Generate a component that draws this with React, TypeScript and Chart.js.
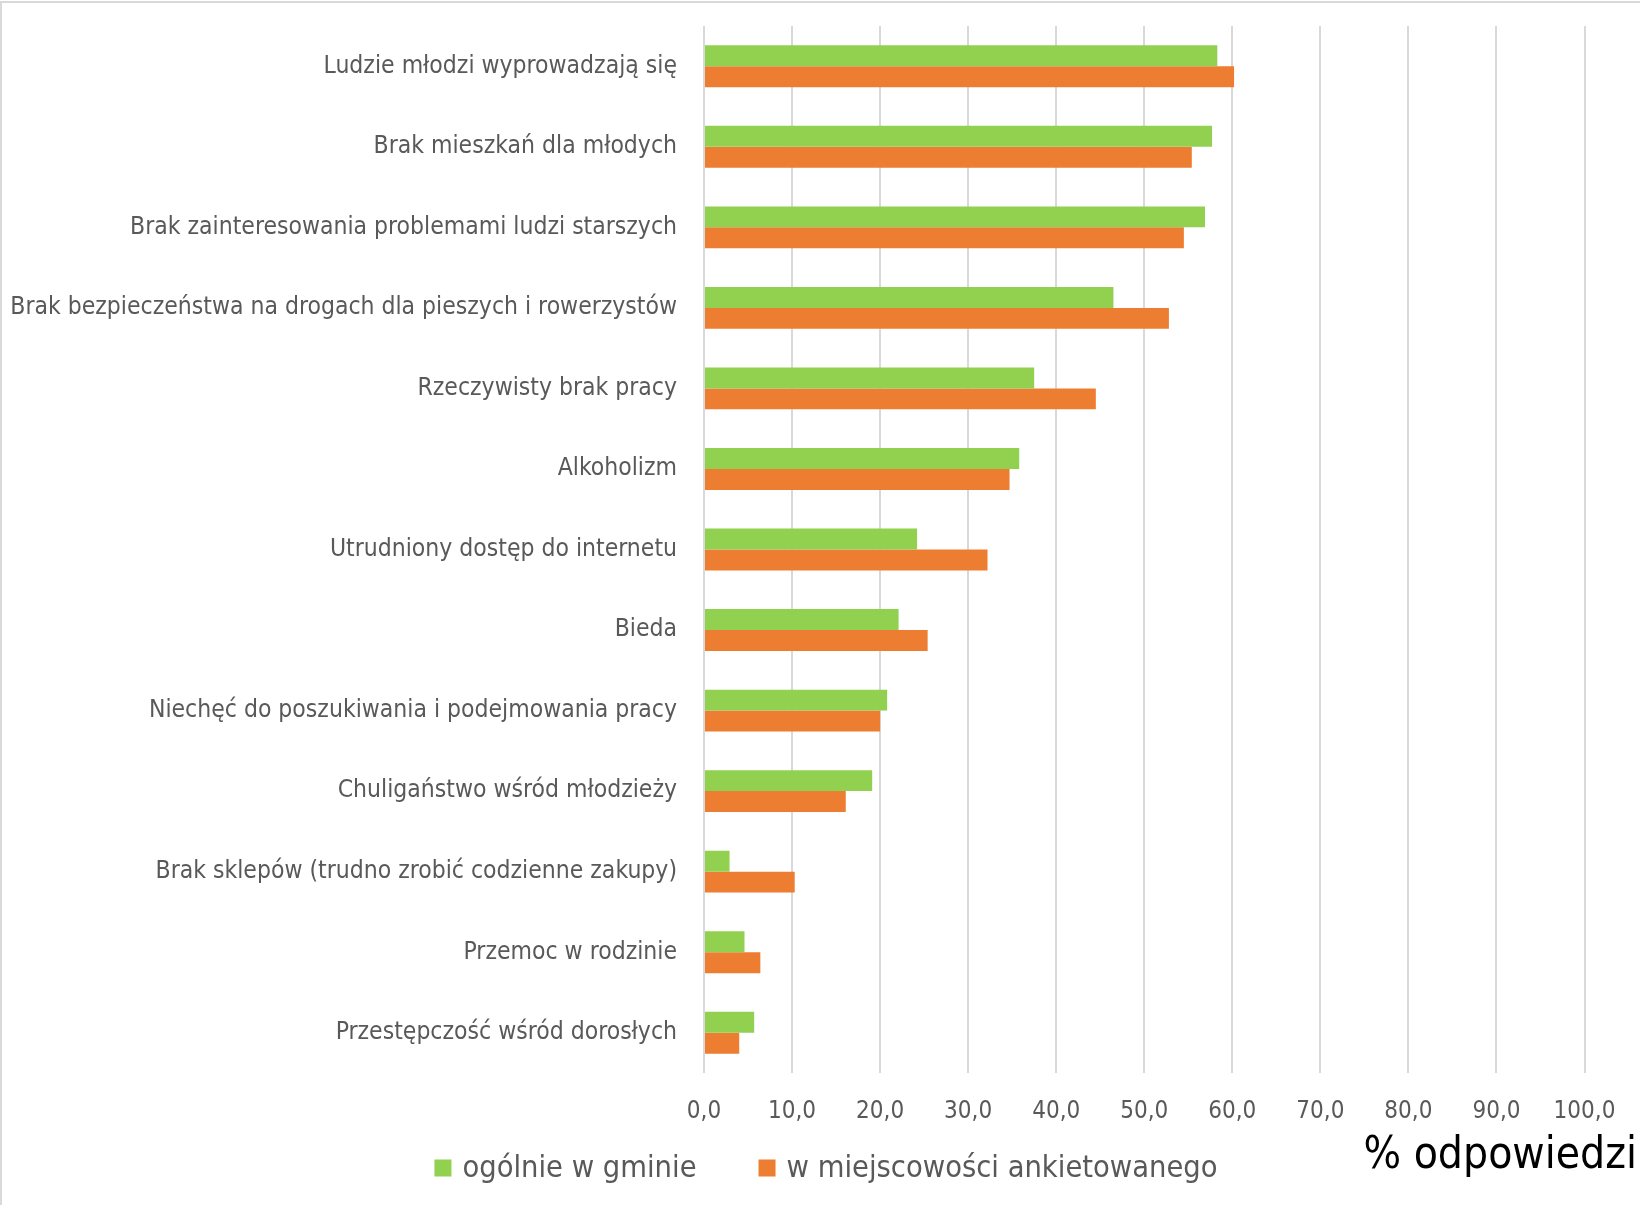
import React, { useEffect, useRef } from "react";
import { Chart, registerables } from "chart.js";

Chart.register(...registerables);

const categories = [
  "Ludzie młodzi wyprowadzają się",
  "Brak mieszkań dla młodych",
  "Brak zainteresowania problemami ludzi starszych",
  "Brak bezpieczeństwa na drogach dla pieszych i rowerzystów",
  "Rzeczywisty brak pracy",
  "Alkoholizm",
  "Utrudniony dostęp do internetu",
  "Bieda",
  "Niechęć do poszukiwania i podejmowania pracy",
  "Chuligaństwo wśród młodzieży",
  "Brak sklepów (trudno zrobić codzienne zakupy)",
  "Przemoc w rodzinie",
  "Przestępczość wśród dorosłych",
];

const seriesNames = ["ogólnie w gminie", "w miejscowości ankietowanego"];
const generalValues = [58.3, 57.7, 56.9, 46.5, 37.5, 35.8, 24.2, 22.1, 20.8, 19.1, 2.9, 4.6, 5.7];
const localValues = [60.2, 55.4, 54.5, 52.8, 44.5, 34.7, 32.2, 25.4, 20.0, 16.1, 10.3, 6.4, 4.0];
const seriesColors = ["#92D050", "#ED7D31"];

const xAxisTitle = "% odpowiedzi";
const xMin = 0;
const xMax = 100;
const xStep = 10;

const FONT = "'Liberation Sans Narrow', 'DejaVu Sans Condensed', 'Liberation Sans', sans-serif";
const TEXT_GRAY = "#595959";

const backgroundPlugin = {
  id: "bgBorder",
  beforeDraw(chart: any) {
    const { ctx, width, height } = chart;
    ctx.save();
    ctx.fillStyle = "#ffffff";
    ctx.fillRect(0, 0, width, height);
    ctx.strokeStyle = "#d9d9d9";
    ctx.lineWidth = 2;
    ctx.beginPath();
    ctx.moveTo(1, height);
    ctx.lineTo(1, 2);
    ctx.lineTo(width, 2);
    ctx.stroke();
    ctx.restore();
  },
};

const legendAndTitlePlugin = {
  id: "legendAndTitle",
  afterDraw(chart: any) {
    const { ctx, width } = chart;
    const xScale = chart.scales.x;
    ctx.save();
    ctx.font = `30.5px ${FONT}`;
    ctx.textBaseline = "middle";
    ctx.textAlign = "left";
    const box = 17;
    const gapBoxText = 11;
    const gapItems = 62;
    const items = chart.data.datasets.map((d: any) => ({
      label: d.label,
      color: d.backgroundColor,
      w: ctx.measureText(d.label).width,
    }));
    const total =
      items.reduce((s: number, it: any) => s + box + gapBoxText + it.w, 0) +
      gapItems * (items.length - 1);
    let x = width / 2 - total / 2 + 6;
    const y = xScale.bottom + 17;
    for (const it of items) {
      ctx.fillStyle = it.color;
      ctx.fillRect(x, y - box / 2, box, box);
      x += box + gapBoxText;
      ctx.fillStyle = TEXT_GRAY;
      ctx.fillText(it.label, x, y + 1);
      x += it.w + gapItems;
    }
    ctx.font = `44px ${FONT}`;
    ctx.fillStyle = "#000000";
    ctx.textAlign = "right";
    ctx.fillText(xAxisTitle, width - 3, xScale.bottom + 6);
    ctx.restore();
  },
};

export default function App() {
  const canvasRef = useRef<HTMLCanvasElement | null>(null);

  useEffect(() => {
    document.body.style.margin = "0";
    const canvas = canvasRef.current;
    if (!canvas) return;
    const chart = new Chart(canvas, {
      type: "bar",
      data: {
        labels: categories,
        datasets: [
          {
            label: seriesNames[0],
            data: generalValues,
            backgroundColor: seriesColors[0],
            borderWidth: 0,
            categoryPercentage: 0.52,
            barPercentage: 1,
          },
          {
            label: seriesNames[1],
            data: localValues,
            backgroundColor: seriesColors[1],
            borderWidth: 0,
            categoryPercentage: 0.52,
            barPercentage: 1,
          },
        ],
      },
      options: {
        indexAxis: "y",
        responsive: false,
        animation: false,
        devicePixelRatio: 1,
        layout: { padding: { top: 26, right: 53, bottom: 54, left: 0 } },
        plugins: {
          legend: { display: false },
          tooltip: { enabled: false },
        },
        scales: {
          x: {
            min: xMin,
            max: xMax,
            ticks: {
              stepSize: xStep,
              padding: 24.6,
              color: TEXT_GRAY,
              font: { family: FONT, size: 24 },
              callback: (v: any) => Number(v).toFixed(1).replace(".", ","),
            },
            grid: { color: "#d9d9d9", lineWidth: 2, drawTicks: false },
            border: { display: false },
          },
          y: {
            ticks: {
              padding: 0,
              color: TEXT_GRAY,
              font: { family: FONT, size: 24.5 },
              autoSkip: false,
            },
            grid: {
              display: true,
              drawOnChartArea: false,
              drawTicks: true,
              tickLength: 27,
              color: "rgba(0,0,0,0)",
            },
            border: { display: false },
            afterFit: (scale: any) => {
              scale.width = 704;
            },
          },
        },
      },
      plugins: [backgroundPlugin, legendAndTitlePlugin],
    });
    return () => chart.destroy();
  }, []);

  return (
    <div style={{ width: 1640, height: 1205 }}>
      <canvas ref={canvasRef} width={1640} height={1205} style={{ display: "block" }} />
    </div>
  );
}
